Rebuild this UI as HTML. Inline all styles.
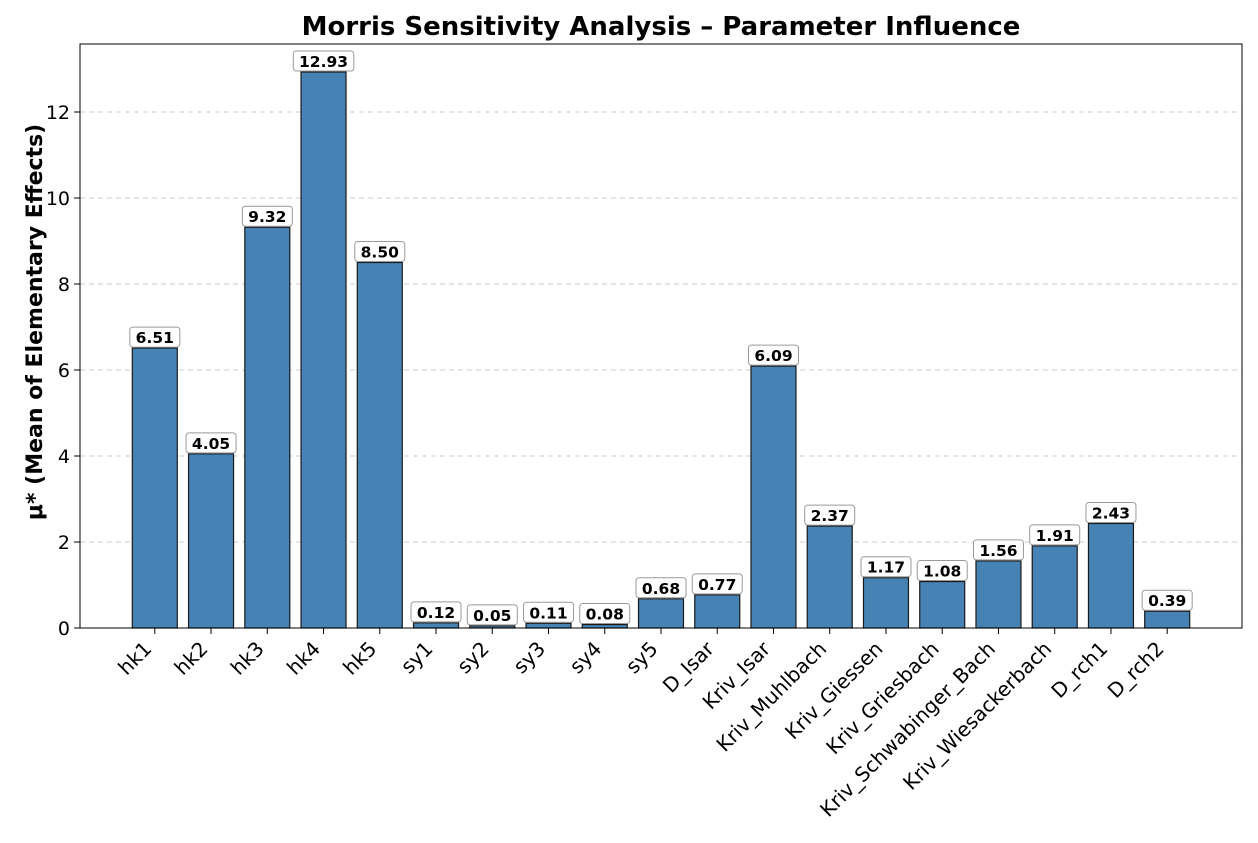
<!DOCTYPE html>
<html><head><meta charset="utf-8"><style>
body{margin:0;background:#fff;font-family:"DejaVu Sans","Liberation Sans",sans-serif;}
svg{display:block}
</style></head><body>
<svg id="chart" width="1258" height="843" font-family="DejaVu Sans, Liberation Sans, sans-serif"></svg>
<script>
const categories=["hk1","hk2","hk3","hk4","hk5","sy1","sy2","sy3","sy4","sy5","D_Isar","Kriv_Isar","Kriv_Muhlbach","Kriv_Giessen","Kriv_Griesbach","Kriv_Schwabinger_Bach","Kriv_Wiesackerbach","D_rch1","D_rch2"];
const muStar=[6.51,4.05,9.32,12.93,8.50,0.12,0.05,0.11,0.08,0.68,0.77,6.09,2.37,1.17,1.08,1.56,1.91,2.43,0.39];
const yTicks=[0,2,4,6,8,10,12];

const svg=document.getElementById('chart');
const NS='http://www.w3.org/2000/svg';
const L=80,R=1242,T=44,B=628;
const yMin=0,yMax=(B-T)/43;
const n=categories.length;
const xlo=-1.33,xhi=n-1+1.33;
function xs(i){return L+(i-xlo)/(xhi-xlo)*(R-L);}
function ys(v){return B-(v-yMin)/(yMax-yMin)*(B-T);}
function mk(tag,attrs,text){const e=document.createElementNS(NS,tag);for(const k in attrs)e.setAttribute(k,attrs[k]);if(text!==undefined)e.textContent=text;svg.appendChild(e);return e;}

let bg=mk('rect',{x:0,y:0,width:1258,height:843,fill:'#fff'});



yTicks.forEach(t=>{
  const y=ys(t);
  if(t>0){const g=mk('line',{x1:L,x2:R,y1:y,y2:y,stroke:'#bbb','stroke-dasharray':'5,4','stroke-width':0.8});
  
  }
  mk('line',{x1:L-6,x2:L,y1:y,y2:y,stroke:'#000','stroke-width':1});
  const tl=mk('text',{x:L-10,y:y+7,'text-anchor':'end','font-size':19,fill:'#000'},String(t));
  
  
});

const bw=0.8*(xs(1)-xs(0));
categories.forEach((c,i)=>{
  const x=xs(i),y=ys(muStar[i]);
  const b=mk('rect',{x:x-bw/2,y:y,width:bw,height:B-y,fill:'#4682b4',stroke:'#1a1a1a','stroke-width':1.2});
  
  
  mk('line',{x1:x,x2:x,y1:B,y2:B+6,stroke:'#000','stroke-width':1});
  const ax=x-2,ay=B+22;
  const lab=mk('text',{x:ax,y:ay,'text-anchor':'end','font-size':20,fill:'#000',transform:`rotate(-45 ${ax} ${ay})`},c);
  
  
  const txt=muStar[i].toFixed(2);
  const w=txt.length*10.5+8;
  const box=mk('rect',{x:x-w/2,y:y-21,width:w,height:20,rx:3,fill:'#fff',stroke:'#999','stroke-width':1});
  
  
  const vt=mk('text',{x:x,y:y-5,'text-anchor':'middle','font-size':15.5,'font-weight':'bold',fill:'#000'},txt);
  
  
});

const fr=mk('rect',{x:L,y:T,width:R-L,height:B-T,fill:'none',stroke:'#000','stroke-width':1});



const ttl=mk('text',{x:661,y:35,'text-anchor':'middle','font-size':26,'font-weight':'bold',fill:'#000'},'Morris Sensitivity Analysis – Parameter Influence');



const yl=mk('text',{x:42,y:322,'text-anchor':'middle','font-size':22,'font-weight':'bold',fill:'#000',transform:`rotate(-90 42 322)`},'μ* (Mean of Elementary Effects)');


</script>
</body></html>
